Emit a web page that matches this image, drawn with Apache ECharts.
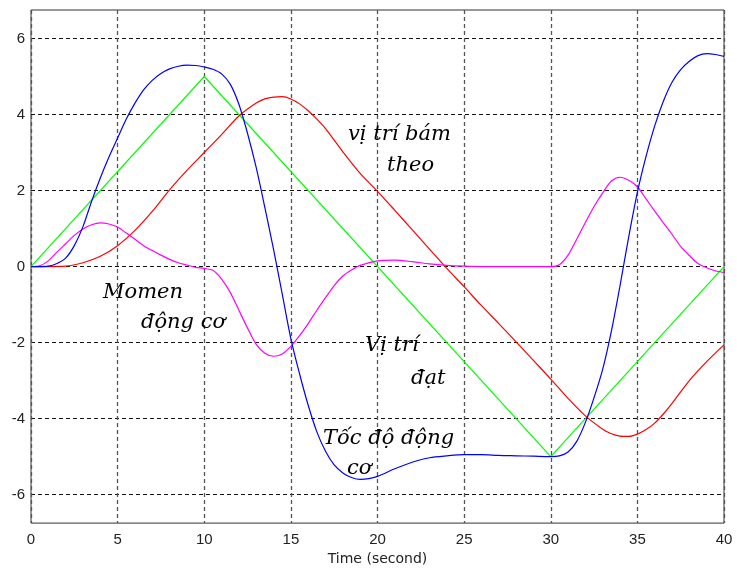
<!DOCTYPE html>
<html>
<head>
<meta charset="utf-8">
<script src="https://cdn.jsdelivr.net/npm/echarts@6/dist/echarts.min.js"></script>
<style>
  html, body { margin: 0; padding: 0; background: #fff; }
  #chart { width: 737px; height: 571px; }
</style>
</head>
<body>
<div id="chart"></div>
<script>
// y ticks (axis runs a little past +-6)
var yTicks = [-6, -4, -2, 0, 2, 4, 6];

// Vị trí đặt (reference position) - green
var posRef = [[0, 0], [10, 5], [30, -5], [40, 0]];

// Vị trí bám theo (tracked position) - red
var posTrack = [
    [0, 0], [1, 0], [2, 0.01], [3, 0.1], [4, 0.27], [5, 0.55], [6, 0.95], [7, 1.45],
    [8, 2.02], [9, 2.53], [10, 3.0], [11, 3.47], [12, 3.96], [13, 4.3], [13.5, 4.41], [14, 4.46],
    [14.5, 4.47], [15, 4.41], [15.5, 4.28], [16, 4.1], [16.5, 3.88], [17, 3.63], [18, 3.02],
    [19, 2.45], [20, 1.98], [21, 1.48], [22, 0.97], [23, 0.46], [24, -0.05], [25, -0.53],
    [26, -1.03], [27, -1.5], [28, -1.98], [29, -2.47], [30, -2.96], [31, -3.47], [32, -3.93],
    [33, -4.28], [33.5, -4.4], [34, -4.46], [34.5, -4.47], [35, -4.41], [35.5, -4.29],
    [36, -4.12], [36.5, -3.88], [37, -3.6], [38, -3.0], [39, -2.5], [40, -2.06]
];

// Tốc độ động cơ (motor speed) - blue
var speed = [
    [0, 0], [0.5, 0], [1, 0.01], [1.5, 0.08], [2, 0.22], [2.5, 0.55], [3, 1.05], [3.5, 1.72],
    [4, 2.33], [4.5, 2.88], [5, 3.38], [5.5, 3.88], [6, 4.3], [6.5, 4.65], [7, 4.9], [7.5, 5.08],
    [8, 5.2], [8.5, 5.27], [9, 5.3], [9.5, 5.29], [10, 5.25], [10.5, 5.19], [11, 5.07],
    [11.5, 4.8], [12, 4.27], [12.5, 3.5], [13, 2.6], [13.5, 1.55], [14, 0.45], [14.5, -0.72],
    [15, -1.9], [15.5, -2.82], [16, -3.65], [16.5, -4.35], [17, -4.86], [17.5, -5.22],
    [18, -5.43], [18.5, -5.55], [19, -5.6], [19.5, -5.58], [20, -5.52], [21, -5.32],
    [22, -5.15], [23, -5.03], [24, -4.98], [25, -4.95], [26, -4.95], [27, -4.97], [28, -4.98],
    [29, -4.99], [30, -5.0], [30.5, -4.98], [31, -4.88], [31.5, -4.6], [32, -4.1], [32.5, -3.45],
    [33, -2.7], [33.5, -1.7], [34, -0.5], [34.5, 0.78], [35, 1.95], [35.5, 2.9], [36, 3.7],
    [36.5, 4.35], [37, 4.85], [37.5, 5.18], [38, 5.4], [38.5, 5.55], [39, 5.6], [39.5, 5.58],
    [40, 5.53]
];

// Momen động cơ (motor torque) - magenta
var torque = [
    [0, 0], [0.5, 0.02], [1, 0.15], [1.5, 0.38], [2, 0.6], [2.5, 0.82], [3, 0.99], [3.5, 1.1],
    [4, 1.15], [4.5, 1.12], [5, 1.04], [5.5, 0.88], [6, 0.72], [6.5, 0.55], [7, 0.42], [7.5, 0.3],
    [8, 0.19], [8.5, 0.1], [9, 0.04], [9.5, -0.02], [10, -0.05], [10.5, -0.1], [11, -0.33],
    [11.5, -0.68], [12, -1.15], [12.5, -1.62], [13, -2.05], [13.5, -2.28], [14, -2.36],
    [14.5, -2.3], [15, -2.1], [15.5, -1.82], [16, -1.5], [16.5, -1.15], [17, -0.82], [17.5, -0.5],
    [18, -0.25], [18.5, -0.09], [19, 0.03], [20, 0.15], [21, 0.17], [22, 0.13], [23, 0.07],
    [24, 0.03], [25, 0.01], [26, 0], [27, 0], [28, 0], [29, 0], [30, 0], [30.5, 0.05], [31, 0.3],
    [31.5, 0.72], [32, 1.16], [32.5, 1.58], [33, 1.94], [33.5, 2.25], [34, 2.35], [34.5, 2.27],
    [35, 2.1], [35.5, 1.78], [36, 1.46], [36.5, 1.15], [37, 0.85], [37.5, 0.53], [38, 0.29],
    [38.5, 0.08], [39, -0.03], [39.5, -0.11], [40, -0.16]
];

var notes = [
    { text: 'vị trí bám', x: 348, y: 142 },
    { text: 'theo', x: 387, y: 173 },
    { text: 'Momen', x: 103, y: 300 },
    { text: 'động cơ', x: 141, y: 330 },
    { text: 'Vị trí', x: 365, y: 353 },
    { text: 'đạt', x: 411, y: 386 },
    { text: 'Tốc độ động', x: 323, y: 446 },
    { text: 'cơ', x: 347, y: 476 }
];

var chart = echarts.init(document.getElementById('chart'), null, { renderer: 'canvas' });

function line(data, color, smooth) {
    return {
        type: 'line',
        data: data,
        showSymbol: false,
        smooth: smooth,
        lineStyle: { color: color, width: 1.2 },
        itemStyle: { color: color },
        animation: false
    };
}

var option = {
    backgroundColor: '#fff',
    animation: false,
    grid: {
        left: 31, right: 13, top: 10, bottom: 46,
        show: true, borderColor: '#333', borderWidth: 1, backgroundColor: '#fff'
    },
    xAxis: {
        type: 'value',
        min: 0, max: 40, interval: 5,
        name: 'Time (second)',
        nameLocation: 'middle',
        nameGap: 25,
        nameTextStyle: { fontFamily: 'DejaVu Sans', fontSize: 14, color: '#222' },
        axisLine: { show: false },
        axisTick: { show: false },
        axisLabel: { fontFamily: 'Liberation Sans', fontSize: 15, color: '#222', margin: 9 },
        splitLine: { show: true, lineStyle: { color: '#555', type: [4, 3], width: 1.3 } }
    },
    yAxis: {
        type: 'value',
        min: -6.75, max: 6.75,
        axisLine: { show: false },
        axisTick: { show: false, customValues: yTicks },
        axisLabel: { customValues: yTicks, fontFamily: 'Liberation Sans', fontSize: 15, color: '#222', margin: 6 },
        splitLine: { show: true, lineStyle: { color: '#111', type: [4, 3], width: 1 } }
    },
    series: [
        line(posRef, '#00ff00', false),
        line(posTrack, '#ff0000', 0.3),
        line(torque, '#ff00ff', 0.3),
        line(speed, '#0000ff', 0.3)
    ],
    graphic: notes.map(function (n) {
        return {
            type: 'text',
            x: n.x,
            y: n.y - 7,
            style: {
                text: n.text,
                font: 'italic 21px "DejaVu Serif"',
                fill: '#000',
                verticalAlign: 'middle',
                align: 'left'
            },
            z: 100
        };
    })
};

chart.setOption(option);
</script>
</body>
</html>
